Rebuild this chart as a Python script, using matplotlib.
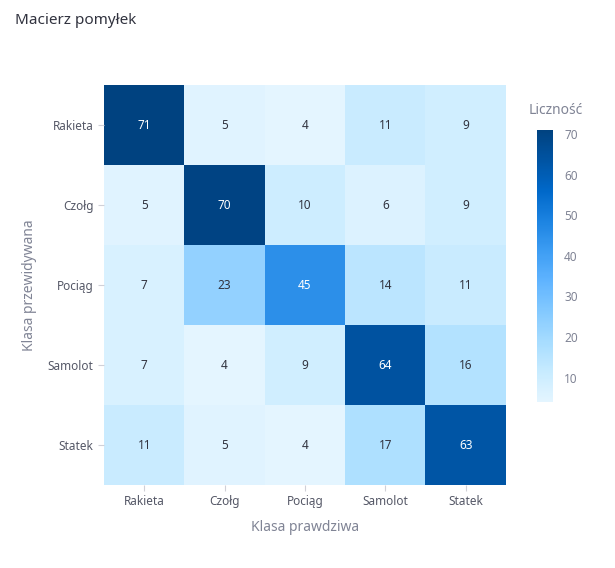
import matplotlib
matplotlib.use("Agg")
import matplotlib.pyplot as plt
import numpy as np
from matplotlib.colors import LinearSegmentedColormap

plt.rcParams['font.family'] = ['Noto Sans', 'DejaVu Sans']

classes = ["Rakieta", "Czołg", "Pociąg", "Samolot", "Statek"]
values = [
    [71, 5, 4, 11, 9],
    [5, 70, 10, 6, 9],
    [7, 23, 45, 14, 11],
    [7, 4, 9, 64, 16],
    [11, 5, 4, 17, 63],
]
M = np.array(values)
vmin, vmax = M.min(), M.max()

cmap = LinearSegmentedColormap.from_list("sb", ["#e4f5ff", "#c7ebff", "#a6dcff", "#83c9ff", "#60b4ff",
                                               "#3d9df3", "#1c83e1", "#0068c9", "#0054a3", "#004280"])

fig = plt.figure(figsize=(6.15, 5.68), dpi=100)
W, H = 615, 568
ax = fig.add_axes([104/W, 1-485/H, 402/W, 400/H])
im = ax.imshow(M, cmap=cmap, vmin=vmin, vmax=vmax, aspect='auto')
for i in range(5):
    for j in range(5):
        v = M[i, j]
        ax.text(j, i, str(v), ha='center', va='center', fontsize=8.5,
                color='white' if v > 40 else '#31333F')
ax.set_xticks(range(5), classes)
ax.set_yticks(range(5), classes)
ax.tick_params(colors='#808495', labelsize=8.5, length=4, color='#d0d0d8', labelcolor='#555867')
for s in ax.spines.values():
    s.set_visible(False)
ax.set_xlabel("Klasa prawdziwa", color='#808495', fontsize=10, labelpad=8)
ax.set_ylabel("Klasa przewidywana", color='#808495', fontsize=10, labelpad=8)

cax = fig.add_axes([537/W, 1-402/H, 16/W, 272/H])
cb = fig.colorbar(im, cax=cax, ticks=[10, 20, 30, 40, 50, 60, 70])
cb.outline.set_visible(False)
cax.tick_params(length=0, labelsize=8.5, labelcolor='#808495', pad=8)
fig.text(556/W, 1-110/H, "Liczność", ha='center', va='center', color='#808495', fontsize=10)
fig.text(15/W, 1-20/H, "Macierz pomyłek", ha='left', va='center', color='#31333F',
         fontsize=11, fontweight='bold')
fig.savefig("out.png", dpi=100, facecolor='white')
